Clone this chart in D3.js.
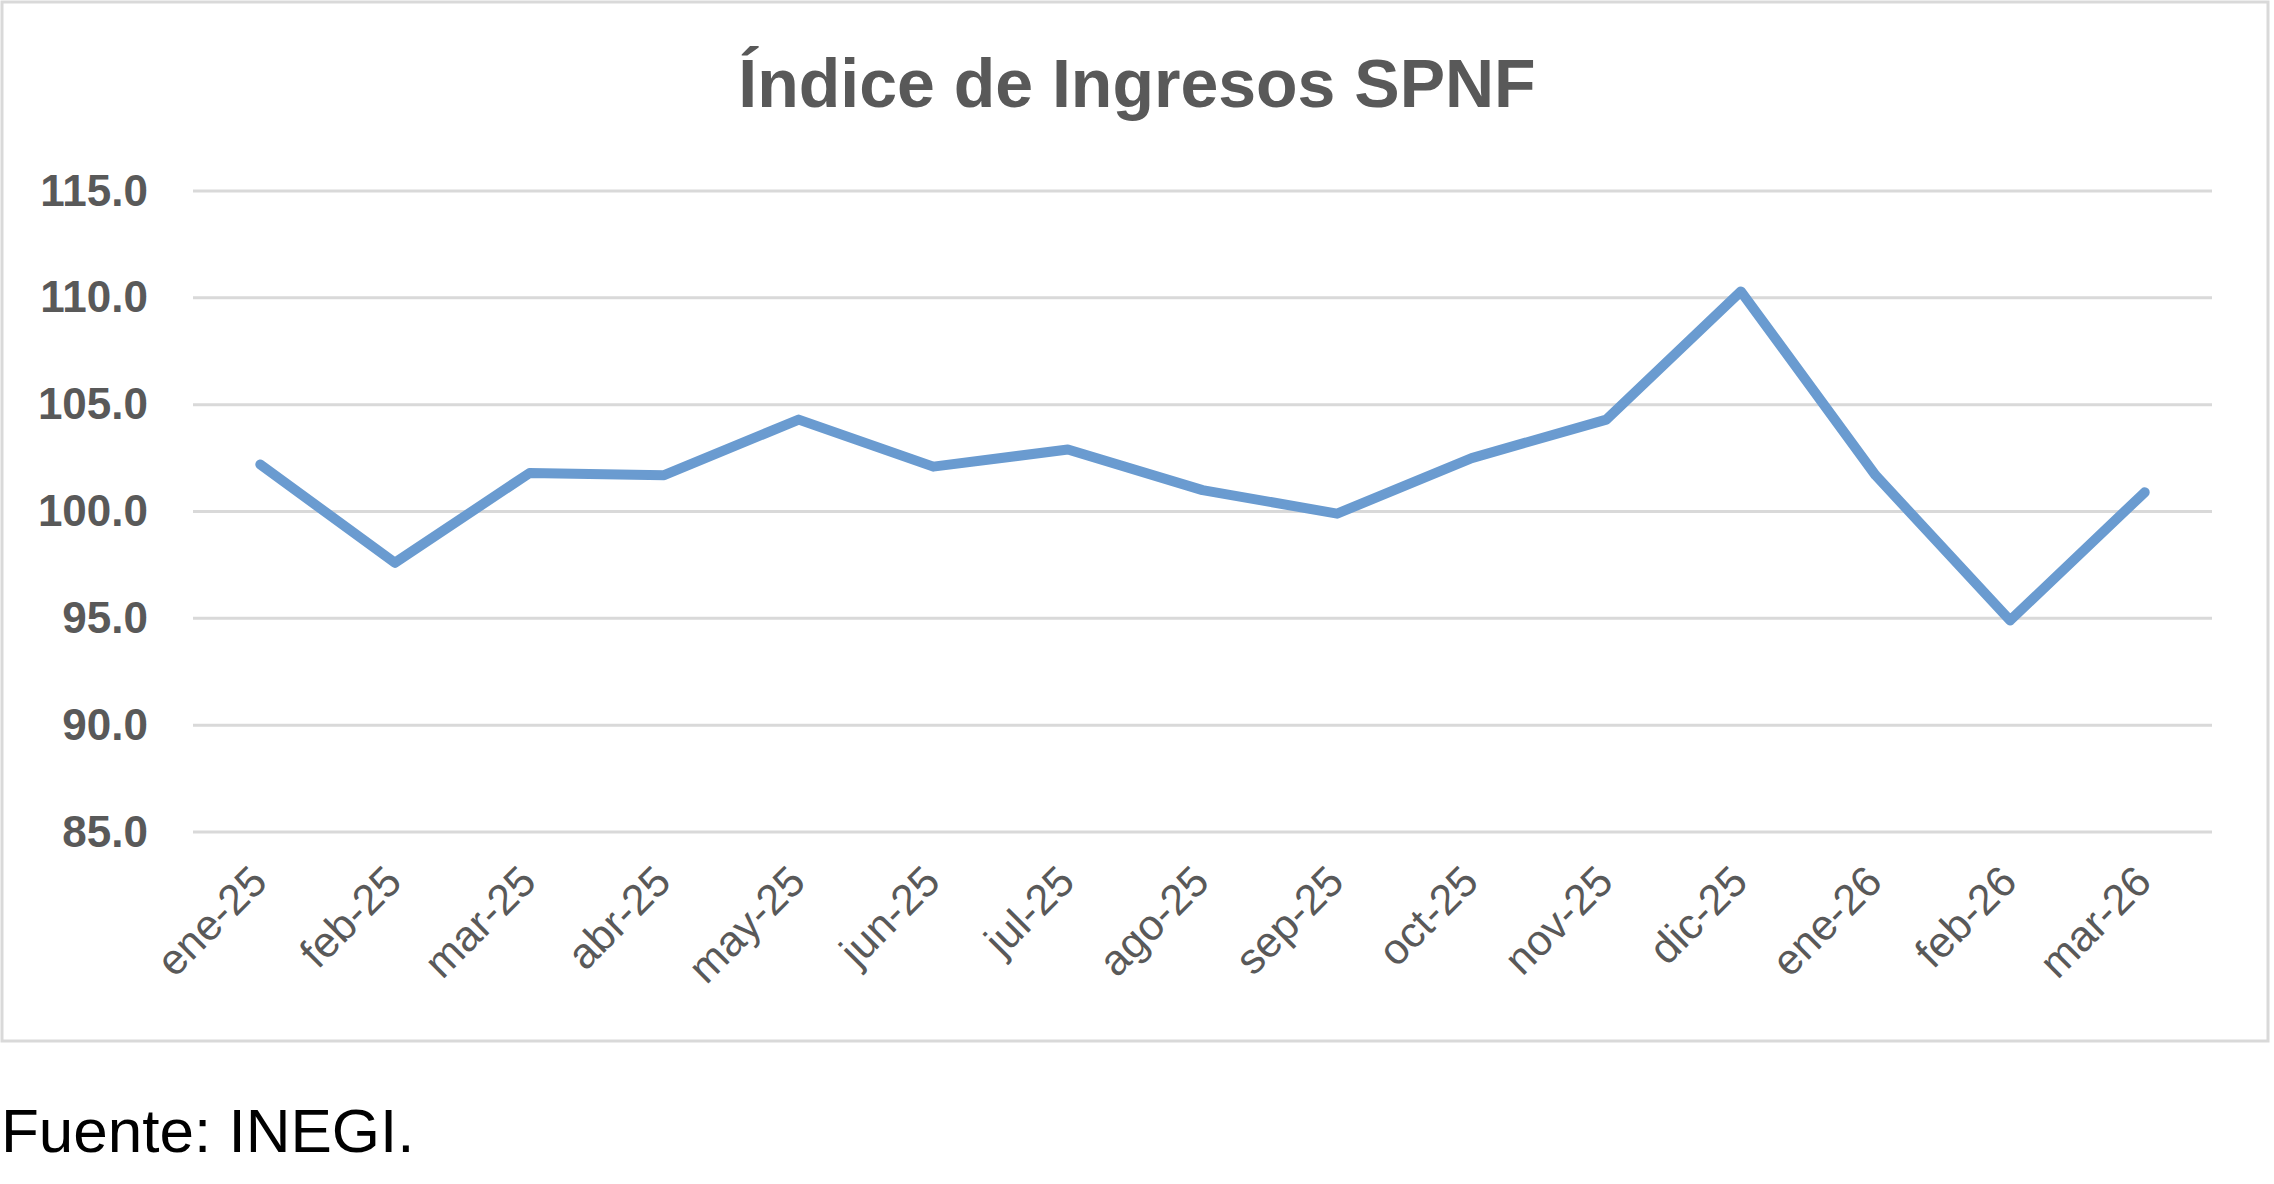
<!DOCTYPE html>
<meta charset="utf-8">
<script src="https://d3js.org/d3.v7.min.js"></script>
<head>
<style>
  body { margin: 0; background: #fff; font-family: "Liberation Sans", Arial, sans-serif; }
</style>
</head>
<body>
<div id="viz"></div>
<script>
// months on the x axis
const months = ["ene-25", "feb-25", "mar-25", "abr-25", "may-25", "jun-25", "jul-25", "ago-25",
                "sep-25", "oct-25", "nov-25", "dic-25", "ene-26", "feb-26", "mar-26"];
// index values
const values = [102.2, 97.6, 101.8, 101.7, 104.3, 102.1, 102.9, 101.0,
                99.9, 102.5, 104.3, 110.3, 101.7, 94.9, 100.9];
// y axis ticks
const yTicks = [85, 90, 95, 100, 105, 110, 115];

const W = 2274, H = 1184;
const plot = {left: 193, right: 2212, top: 191, bottom: 832};

const svg = d3.select("#viz").append("svg")
  .attr("width", W)
  .attr("height", H);

// chart frame
svg.append("rect")
  .attr("x", 2).attr("y", 2)
  .attr("width", 2266).attr("height", 1039)
  .attr("fill", "#fff")
  .attr("stroke", "#d9d9d9")
  .attr("stroke-width", 3);

const x = d3.scalePoint()
  .domain(months)
  .range([plot.left, plot.right])
  .padding(0.5);

const y = d3.scaleLinear()
  .domain([85, 115])
  .range([plot.bottom, plot.top]);

// gridlines
svg.append("g")
  .selectAll("line")
  .data(yTicks)
  .join("line")
    .attr("x1", plot.left)
    .attr("x2", plot.right)
    .attr("y1", d => y(d))
    .attr("y2", d => y(d))
    .attr("stroke", "#d9d9d9")
    .attr("stroke-width", 3);

// y labels
svg.append("g")
  .selectAll("text")
  .data(yTicks)
  .join("text")
    .attr("x", 148)
    .attr("y", d => y(d))
    .attr("dy", "0.33em")
    .attr("text-anchor", "end")
    .attr("font-size", 44)
    .attr("font-weight", "bold")
    .attr("fill", "#595959")
    .text(d => d3.format(".1f")(d));

// x labels, rotated
svg.append("g")
  .selectAll("text")
  .data(months)
  .join("text")
    .attr("transform", d => `translate(${x(d) + 9},884) rotate(-45)`)
    .attr("text-anchor", "end")
    .attr("font-size", 43)
    .attr("fill", "#595959")
    .text(d => d);

// the line
const line = d3.line()
  .x((d, i) => x(months[i]))
  .y(d => y(d));

svg.append("path")
  .datum(values)
  .attr("d", line)
  .attr("fill", "none")
  .attr("stroke", "#6a9bd0")
  .attr("stroke-width", 10)
  .attr("stroke-linejoin", "round")
  .attr("stroke-linecap", "round");

// title
svg.append("text")
  .attr("x", 1137)
  .attr("y", 107)
  .attr("text-anchor", "middle")
  .attr("font-size", 68)
  .attr("font-weight", "bold")
  .attr("fill", "#595959")
  .text("Índice de Ingresos SPNF");

// source note
svg.append("text")
  .attr("x", 1)
  .attr("y", 1152)
  .attr("font-size", 62)
  .attr("fill", "#000")
  .text("Fuente: INEGI.");
</script>
</body>
